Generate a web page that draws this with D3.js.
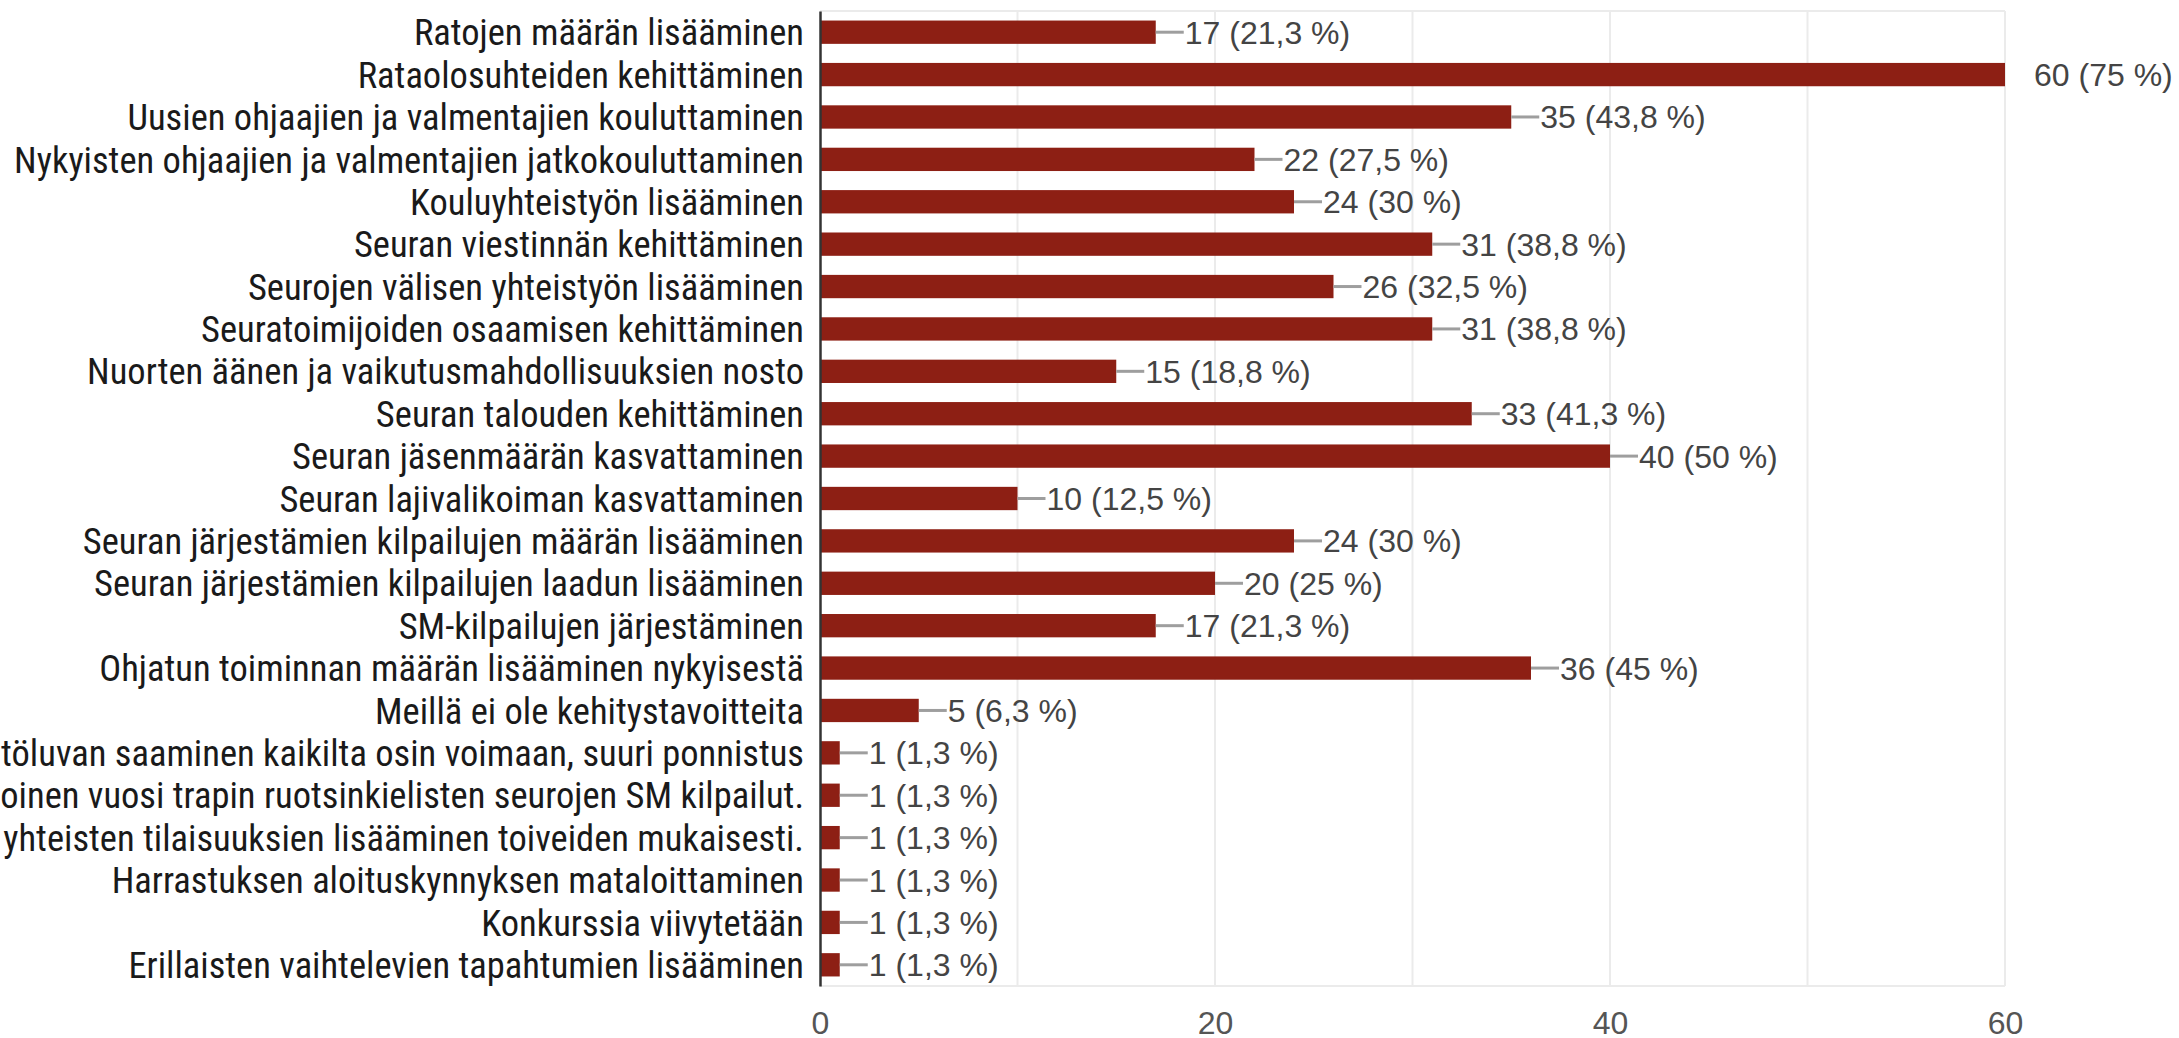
<!DOCTYPE html>
<html>
<head>
<meta charset="utf-8">
<script src="https://cdn.jsdelivr.net/npm/d3@7"></script>
<style>
	body { margin: 0; background: #fff; overflow: hidden; }
	.gridLine { stroke: #ebebeb; stroke-width: 2; }
	.catLabel { font-family: "Liberation Sans Narrow", "Arial Narrow", "Roboto Condensed", "DejaVu Sans Condensed", sans-serif; font-size: 36.5px; fill: #1a1a1a; }
	.valLabel { font-family: "Liberation Sans", Arial, sans-serif; font-size: 32px; fill: #444; }
	.tickLabel { font-family: "Liberation Sans", Arial, sans-serif; font-size: 32px; fill: #555; }
	.connector { stroke: #9e9e9e; stroke-width: 3; }
</style>
</head>
<body>
<script>
//self-executing anonymous function to keep things local
(function(){

//category labels, top to bottom
var categories = [
	"Ratojen määrän lisääminen",
	"Rataolosuhteiden kehittäminen",
	"Uusien ohjaajien ja valmentajien kouluttaminen",
	"Nykyisten ohjaajien ja valmentajien jatkokouluttaminen",
	"Kouluyhteistyön lisääminen",
	"Seuran viestinnän kehittäminen",
	"Seurojen välisen yhteistyön lisääminen",
	"Seuratoimijoiden osaamisen kehittäminen",
	"Nuorten äänen ja vaikutusmahdollisuuksien nosto",
	"Seuran talouden kehittäminen",
	"Seuran jäsenmäärän kasvattaminen",
	"Seuran lajivalikoiman kasvattaminen",
	"Seuran järjestämien kilpailujen määrän lisääminen",
	"Seuran järjestämien kilpailujen laadun lisääminen",
	"SM-kilpailujen järjestäminen",
	"Ohjatun toiminnan määrän lisääminen nykyisestä",
	"Meillä ei ole kehitystavoitteita",
	"Ympäristöluvan saaminen kaikilta osin voimaan, suuri ponnistus",
	"Joka toinen vuosi trapin ruotsinkielisten seurojen SM kilpailut.",
	"Seurojen yhteisten tilaisuuksien lisääminen toiveiden mukaisesti.",
	"Harrastuksen aloituskynnyksen mataloittaminen",
	"Konkurssia viivytetään",
	"Erillaisten vaihtelevien tapahtumien lisääminen"
];

//answer counts
var counts = [17, 60, 35, 22, 24, 31, 26, 31, 15, 33, 40, 10, 24, 20, 17, 36, 5, 1, 1, 1, 1, 1, 1];

//percentage texts as printed next to the bars
var percents = ["21,3 %", "75 %", "43,8 %", "27,5 %", "30 %", "38,8 %", "32,5 %", "38,8 %", "18,8 %",
				"41,3 %", "50 %", "12,5 %", "30 %", "25 %", "21,3 %", "45 %", "6,3 %",
				"1,3 %", "1,3 %", "1,3 %", "1,3 %", "1,3 %", "1,3 %"];

//x axis tick labels and gridline values
var tickValues = [0, 20, 40, 60];
var gridValues = [10, 20, 30, 40, 50, 60];

window.onload = setChart();

function setChart(){
	//frame dimensions
	var width = 2179,
		height = 1038,
		left = 820,
		right = 2005,
		top = 11,
		bottom = 986;

	var svg = d3.select("body")
		.append("svg")
		.attr("width", width)
		.attr("height", height);

	//scales
	var xScale = d3.scaleLinear()
		.domain([0, 60])
		.range([left, right]);

	var yScale = d3.scaleBand()
		.domain(categories)
		.range([top, bottom])
		.paddingInner(0.45)
		.paddingOuter(0.225);

	//clip for the connector lines (they stop at the plot edge)
	svg.append("clipPath")
		.attr("id", "plotClip")
		.append("rect")
		.attr("x", left)
		.attr("y", top)
		.attr("width", right - left)
		.attr("height", bottom - top);

	//vertical gridlines
	svg.selectAll(".vGrid")
		.data(gridValues)
		.enter()
		.append("line")
		.attr("class", "gridLine")
		.attr("x1", function(d){ return xScale(d); })
		.attr("x2", function(d){ return xScale(d); })
		.attr("y1", top)
		.attr("y2", bottom);

	//top and bottom border of plot area
	svg.selectAll(".hGrid")
		.data([top, bottom])
		.enter()
		.append("line")
		.attr("class", "gridLine")
		.attr("x1", left)
		.attr("x2", right)
		.attr("y1", function(d){ return d; })
		.attr("y2", function(d){ return d; });

	//bars
	svg.selectAll(".bar")
		.data(counts)
		.enter()
		.append("rect")
		.attr("class", "bar")
		.attr("x", xScale(0))
		.attr("y", function(d, i){ return yScale(categories[i]); })
		.attr("width", function(d){ return xScale(d) - xScale(0); })
		.attr("height", yScale.bandwidth())
		.style("fill", "#8d1f14");

	//connector lines from bar end to label
	svg.append("g")
		.attr("clip-path", "url(#plotClip)")
		.selectAll(".connector")
		.data(counts)
		.enter()
		.append("line")
		.attr("class", "connector")
		.attr("x1", function(d){ return xScale(d); })
		.attr("x2", function(d){ return xScale(d) + 28; })
		.attr("y1", function(d, i){ return yScale(categories[i]) + yScale.bandwidth() / 2; })
		.attr("y2", function(d, i){ return yScale(categories[i]) + yScale.bandwidth() / 2; });

	//value labels
	svg.selectAll(".valLabel")
		.data(counts)
		.enter()
		.append("text")
		.attr("class", "valLabel")
		.attr("x", function(d){ return xScale(d) + 29; })
		.attr("y", function(d, i){ return yScale(categories[i]) + yScale.bandwidth() / 2; })
		.attr("dy", "0.36em")
		.text(function(d, i){ return d + " (" + percents[i] + ")"; });

	//left axis with category labels (long ones run past the left edge, as in the original)
	var yAxis = d3.axisLeft(yScale)
		.tickSize(0)
		.tickSizeOuter(0)
		.tickPadding(16);

	var yAxisG = svg.append("g")
		.attr("transform", "translate(" + left + ",0)")
		.call(yAxis);
	yAxisG.select(".domain")
		.attr("stroke", "#333")
		.attr("stroke-width", 2.5);
	yAxisG.selectAll("text")
		.attr("class", "catLabel")
		.attr("font-family", null)
		.attr("font-size", null)
		.attr("fill", null)
		.attr("dy", "0.36em");

	//bottom axis, labels only
	var xAxis = d3.axisBottom(xScale)
		.tickValues(tickValues)
		.tickSize(0)
		.tickPadding(25);

	var xAxisG = svg.append("g")
		.attr("transform", "translate(0," + bottom + ")")
		.call(xAxis);
	xAxisG.select(".domain").remove();
	xAxisG.selectAll("text")
		.attr("class", "tickLabel")
		.attr("font-family", null)
		.attr("font-size", null)
		.attr("fill", null);
};

})();
</script>
</body>
</html>
